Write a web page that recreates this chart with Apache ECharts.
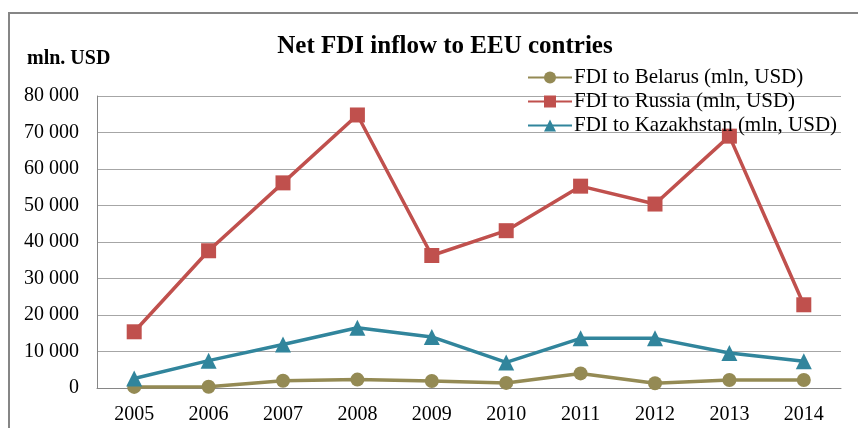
<!DOCTYPE html>
<html><head><meta charset="utf-8">
<script src="https://cdn.jsdelivr.net/npm/echarts@6/dist/echarts.min.js"></script>
<style>html,body{margin:0;padding:0;background:#fff}#c{width:858px;height:428px}</style>
</head><body><div id="c"></div>
<script>
const years = ['2005','2006','2007','2008','2009','2010','2011','2012','2013','2014'];
const belarus = [300, 350, 2000, 2300, 1900, 1400, 4000, 1300, 2200, 2200];
const russia = [15400, 37600, 56200, 74800, 36300, 43100, 55300, 50400, 69000, 22800];
const kazakhstan = [2600, 7500, 11900, 16500, 14000, 7000, 13600, 13600, 9600, 7300];
const seriesNames = ['FDI to Belarus (mln, USD)', 'FDI to Russia (mln, USD)', 'FDI to Kazakhstan (mln, USD)'];

const serif = '"Liberation Serif", "DejaVu Serif", serif';
const chart = echarts.init(document.getElementById('c'), null, {renderer: 'canvas'});
function fmt(v){ if (v === 0) return '0'; return String(Math.floor(v/1000)) + ' 000'; }
chart.setOption({
  animation: false,
  backgroundColor: '#fff',
  title: {
    text: 'Net FDI inflow to EEU contries',
    left: 440, top: 29, textAlign: 'center',
    textStyle: {fontFamily: serif, fontWeight: 'bold', fontSize: 25, color: '#000'}
  },
  legend: {
    orient: 'vertical', left: 522, top: 62, itemGap: 3,
    itemWidth: 44, itemHeight: 15,
    textStyle: {fontFamily: serif, fontSize: 21, color: '#000', padding: [0,0,0,-3]},
    data: seriesNames
  },
  graphic: [
    {type: 'rect', shape: {x: 9, y: 13, width: 900, height: 500}, style: {fill: 'none', stroke: '#868686', lineWidth: 2}, z: -10},
    {type: 'text', left: 27, top: 49, style: {text: 'mln. USD', font: 'bold 20px ' + serif, fill: '#000'}}
  ],
  grid: {left: 97, right: 17, top: 96, bottom: 40},
  xAxis: {
    type: 'category', data: years, boundaryGap: true,
    axisLine: {lineStyle: {color: '#868686', width: 1}},
    axisTick: {show: false},
    axisLabel: {fontFamily: serif, fontSize: 20, color: '#000', margin: 17}
  },
  yAxis: {
    type: 'value', min: 0, max: 80000, interval: 10000,
    axisLine: {show: true, lineStyle: {color: '#868686', width: 1}},
    axisTick: {show: false},
    splitLine: {lineStyle: {color: '#A6A6A6', width: 1}},
    axisLabel: {fontFamily: serif, fontSize: 20, color: '#000', margin: 18, formatter: fmt}
  },
  series: [
    {name: seriesNames[0], type: 'line', data: belarus, symbol: 'circle', symbolSize: 14,
     lineStyle: {color: '#948A54', width: 3.5}, itemStyle: {color: '#948A54'}},
    {name: seriesNames[1], type: 'line', data: russia, symbol: 'rect', symbolSize: 15,
     lineStyle: {color: '#C0504D', width: 3.5}, itemStyle: {color: '#C0504D'}},
    {name: seriesNames[2], type: 'line', data: kazakhstan, symbol: 'triangle', symbolSize: 16,
     lineStyle: {color: '#31859C', width: 3.5}, itemStyle: {color: '#31859C'}}
  ]
});
</script></body></html>
